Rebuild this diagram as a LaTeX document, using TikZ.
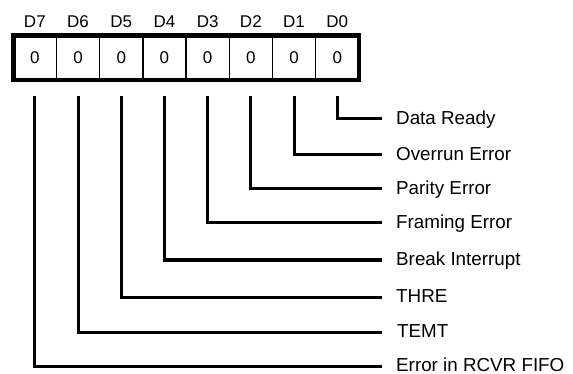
\documentclass[tikz,border=0pt]{standalone}
\usepackage{fontspec}
\setmainfont{Liberation Sans}
\usetikzlibrary{positioning}

\begin{document}
\begin{tikzpicture}[x=1pt, y=-1pt,
		cell/.style={draw, line width=1.5pt, outer sep=0pt, inner sep=0pt, minimum width=43.2pt, minimum height=44.5pt, font=\fontsize{17}{17}\selectfont},
		bitname/.style={inner sep=0pt, font=\fontsize{17}{17}\selectfont},
		flag/.style={anchor=west, inner sep=0pt, text height=11pt, text depth=0pt, font=\fontsize{18.8}{20}\selectfont},
		lead/.style={line width=3pt}]
		\useasboundingbox (0, 0) rectangle (573, 374);

		\node[cell] (c7) at (34.85, 57.75) {0};
		\node[cell, right=0pt of c7] (c6) {0};
		\node[cell, right=0pt of c6] (c5) {0};
		\node[cell, right=0pt of c5] (c4) {0};
		\node[cell, right=0pt of c4] (c3) {0};
		\node[cell, right=0pt of c3] (c2) {0};
		\node[cell, right=0pt of c2] (c1) {0};
		\node[cell, right=0pt of c1] (c0) {0};
		\draw[line width=4.5pt] (c7.north west) rectangle (c0.south east);

		\node[bitname, above=8pt of c7] (n7) {D7};
		\node[bitname, above=8pt of c6] (n6) {D6};
		\node[bitname, above=8pt of c5] (n5) {D5};
		\node[bitname, above=8pt of c4] (n4) {D4};
		\node[bitname, above=8pt of c3] (n3) {D3};
		\node[bitname, above=8pt of c2] (n2) {D2};
		\node[bitname, above=8pt of c1] (n1) {D1};
		\node[bitname, above=8pt of c0] (n0) {D0};

		\node[flag] (f0) at (396, 119) {Data Ready};
		\node[flag] (f1) at (396, 155) {Overrun Error};
		\node[flag] (f2) at (396, 189) {Parity Error};
		\node[flag] (f3) at (396, 223) {Framing Error};
		\node[flag] (f4) at (396, 260) {Break Interrupt};
		\node[flag] (f5) at (396, 297) {THRE};
		\node[flag] (f6) at (397, 332) {TEMT};
		\node[flag] (f7) at (396, 366) {Error in RCVR FIFO};

		\draw[lead] ([yshift=-16pt]c0.south) |- ([xshift=-14pt]f0.west);
		\draw[lead] ([yshift=-16pt]c1.south) |- ([xshift=-14pt]f1.west);
		\draw[lead] ([yshift=-16pt]c2.south) |- ([xshift=-14pt]f2.west);
		\draw[lead] ([yshift=-16pt]c3.south) |- ([xshift=-14pt]f3.west);
		\draw[lead] ([yshift=-16pt]c4.south) |- ([xshift=-14pt]f4.west);
		\draw[lead] ([yshift=-16pt]c5.south) |- ([xshift=-14pt]f5.west);
		\draw[lead] ([yshift=-16pt]c6.south) |- ([xshift=-15pt]f6.west);
		\draw[lead] ([yshift=-16pt]c7.south) |- ([xshift=-14pt]f7.west);
	\end{tikzpicture}
\end{document}
